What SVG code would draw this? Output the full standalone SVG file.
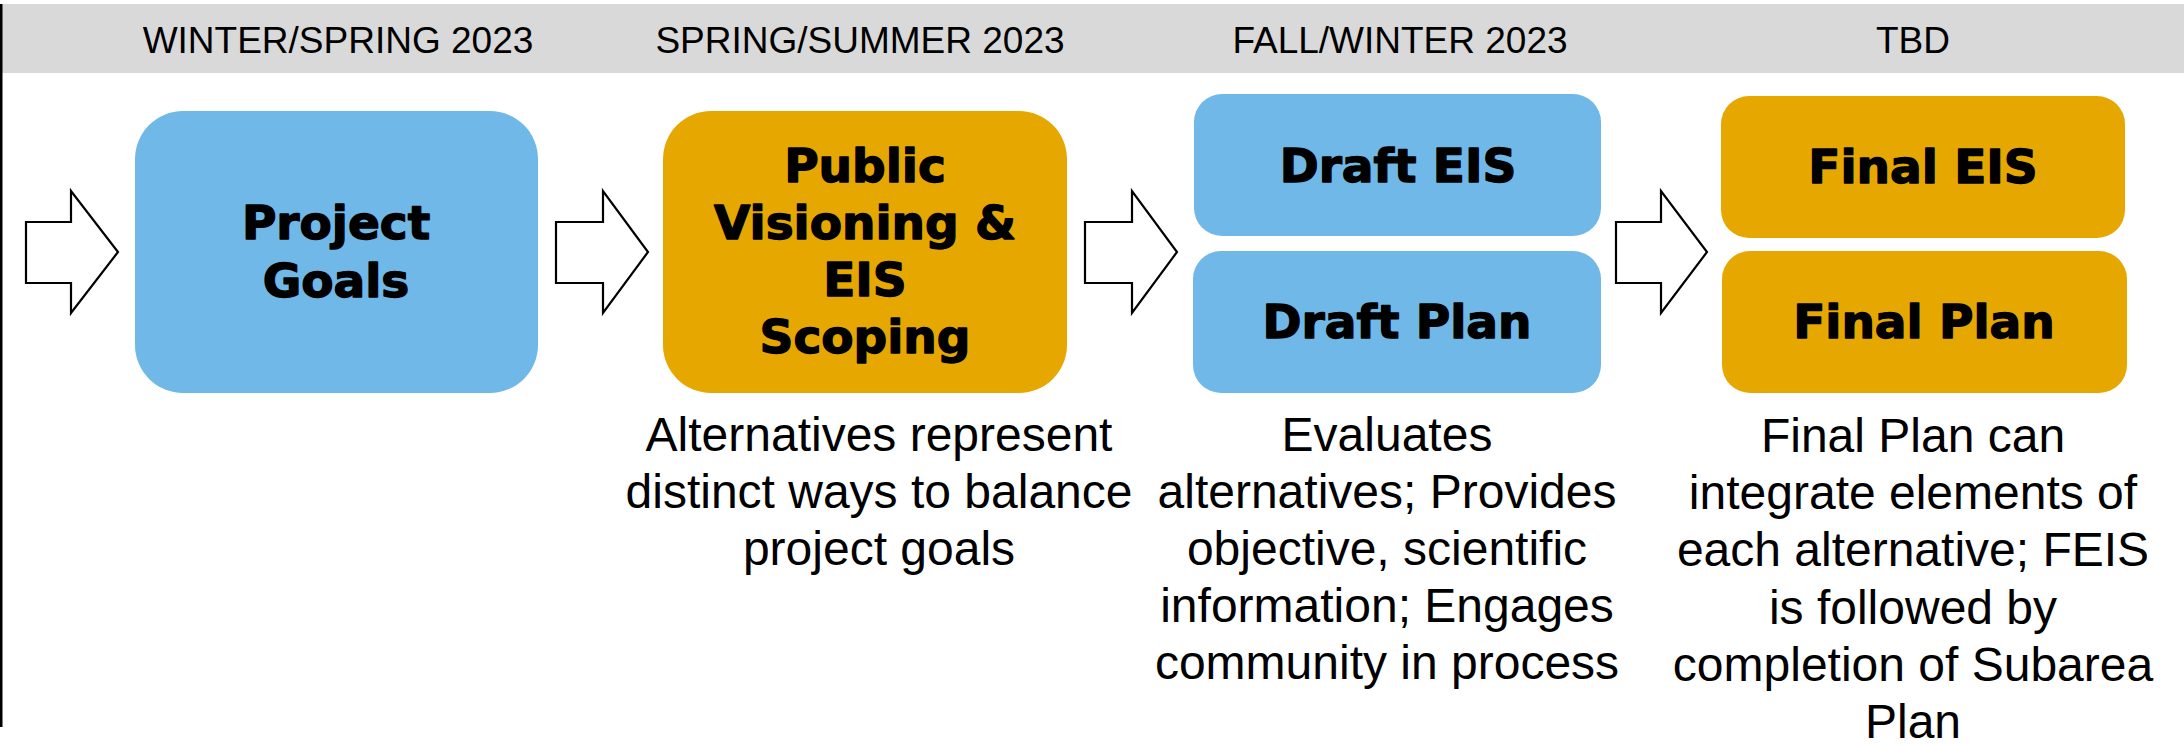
<svg xmlns="http://www.w3.org/2000/svg" width="2184" height="745" viewBox="0 0 2184 745">
<style>
.hdr{font-family:"Liberation Sans",Arial,sans-serif;font-size:37px;fill:#000;text-anchor:middle}
.ttl{font-family:"DejaVu Sans",Verdana,sans-serif;font-weight:bold;font-size:47px;fill:#000;stroke:#000;stroke-width:1.4;stroke-linejoin:round;text-anchor:middle}
.desc{font-family:"Liberation Sans",Arial,sans-serif;font-size:48px;fill:#000;text-anchor:middle}
.blue{fill:#70B8E8}
.gold{fill:#E6A800}
.arrow{fill:#fff;stroke:#000;stroke-width:2.2;stroke-linejoin:miter}
</style>
<rect x="0" y="0" width="2184" height="745" fill="#fff"/>
<rect x="0" y="4" width="2184" height="69" fill="#D9D9D9"/>
<rect x="0" y="4" width="2.5" height="723" fill="#000"/>
<g id="headers">
<text class="hdr" x="338" y="53">WINTER/SPRING 2023</text>
<text class="hdr" x="860" y="53">SPRING/SUMMER 2023</text>
<text class="hdr" x="1400" y="53">FALL/WINTER 2023</text>
<text class="hdr" x="1913" y="53">TBD</text>
</g>
<g id="connectors">
<path class="arrow" d="M26,222 H71 V191 L118,252 L71,313 V283 H26 Z"/>
<path class="arrow" d="M556,222 H603 V191 L648,252 L603,313 V283 H556 Z"/>
<path class="arrow" d="M1085,222 H1132 V191 L1177,252 L1132,313 V283 H1085 Z"/>
<path class="arrow" d="M1616,222 H1661 V191 L1707,252 L1661,313 V283 H1616 Z"/>
</g>
<g id="project-goals">
<rect class="blue" x="135" y="111" width="403" height="282" rx="48" ry="48"/>
<text class="ttl" x="336" y="239">Project</text>
<text class="ttl" x="336" y="297">Goals</text>
</g>
<g id="public-visioning">
<rect class="gold" x="663" y="111" width="404" height="282" rx="48" ry="48"/>
<text class="ttl" x="865" y="182">Public</text>
<text class="ttl" x="865" y="239">Visioning &amp;</text>
<text class="ttl" x="865" y="296">EIS</text>
<text class="ttl" x="865" y="353">Scoping</text>
</g>
<g id="draft-eis">
<rect class="blue" x="1194" y="94" width="407" height="142" rx="28" ry="28"/>
<text class="ttl" x="1398" y="182">Draft EIS</text>
</g>
<g id="draft-plan">
<rect class="blue" x="1193" y="251" width="408" height="142" rx="28" ry="28"/>
<text class="ttl" x="1397" y="338">Draft Plan</text>
</g>
<g id="final-eis">
<rect class="gold" x="1721" y="96" width="404" height="142" rx="28" ry="28"/>
<text class="ttl" x="1923" y="183">Final EIS</text>
</g>
<g id="final-plan">
<rect class="gold" x="1722" y="251" width="405" height="142" rx="28" ry="28"/>
<text class="ttl" x="1924" y="338">Final Plan</text>
</g>
<g id="desc-visioning">
<text class="desc" x="879" y="451">Alternatives represent</text>
<text class="desc" x="879" y="508">distinct ways to balance</text>
<text class="desc" x="879" y="565">project goals</text>
</g>
<g id="desc-draft">
<text class="desc" x="1387" y="451">Evaluates</text>
<text class="desc" x="1387" y="508">alternatives; Provides</text>
<text class="desc" x="1387" y="565">objective, scientific</text>
<text class="desc" x="1387" y="622">information; Engages</text>
<text class="desc" x="1387" y="679">community in process</text>
</g>
<g id="desc-final">
<text class="desc" x="1913" y="452">Final Plan can</text>
<text class="desc" x="1913" y="509">integrate elements of</text>
<text class="desc" x="1913" y="566">each alternative; FEIS</text>
<text class="desc" x="1913" y="624">is followed by</text>
<text class="desc" x="1913" y="681">completion of Subarea</text>
<text class="desc" x="1913" y="738">Plan</text>
</g>
</svg>
